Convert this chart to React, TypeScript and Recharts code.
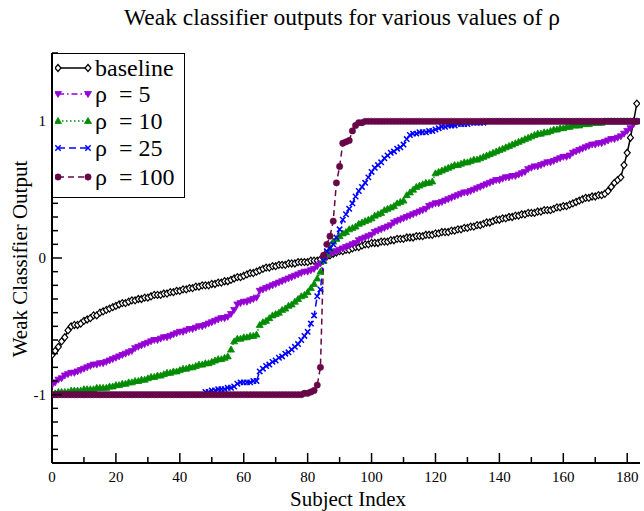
import React from 'react';
import { LineChart, Line, XAxis, YAxis } from 'recharts';

const FONT = "'Liberation Serif', 'DejaVu Serif', 'Times New Roman', serif";

// Subject index 0..183
const subjectIndex = Array.from({ length: 184 }, (_, i) => i);

const baseline = [
  -0.71, -0.68, -0.65, -0.61, -0.58, -0.53, -0.50, -0.49, -0.49, -0.48,
  -0.46, -0.45, -0.44, -0.42, -0.42, -0.40, -0.39, -0.38, -0.37, -0.36,
  -0.35, -0.34, -0.33, -0.33, -0.32, -0.31, -0.31, -0.30, -0.30, -0.29,
  -0.29, -0.28, -0.27, -0.27, -0.27, -0.26, -0.26, -0.25, -0.25, -0.24,
  -0.24, -0.23, -0.23, -0.22, -0.22, -0.21, -0.21, -0.20, -0.20, -0.20,
  -0.19, -0.19, -0.18, -0.18, -0.17, -0.17, -0.16, -0.15, -0.14, -0.14,
  -0.13, -0.12, -0.11, -0.11, -0.10, -0.09, -0.08, -0.07, -0.07, -0.06,
  -0.06, -0.05, -0.05, -0.05, -0.04, -0.04, -0.04, -0.03, -0.03, -0.03,
  -0.03, -0.02, -0.02, -0.02, -0.01, 0.00, 0.01, 0.02, 0.03, 0.04,
  0.05, 0.05, 0.06, 0.06, 0.07, 0.08, 0.08, 0.09, 0.10, 0.10,
  0.11, 0.11, 0.11, 0.12, 0.12, 0.12, 0.13, 0.13, 0.14, 0.14,
  0.14, 0.15, 0.15, 0.15, 0.16, 0.16, 0.16, 0.17, 0.17, 0.17,
  0.18, 0.18, 0.19, 0.19, 0.19, 0.20, 0.20, 0.21, 0.21, 0.22,
  0.22, 0.23, 0.23, 0.24, 0.24, 0.25, 0.26, 0.26, 0.27, 0.28,
  0.28, 0.29, 0.29, 0.30, 0.30, 0.31, 0.31, 0.32, 0.32, 0.33,
  0.33, 0.33, 0.34, 0.34, 0.35, 0.35, 0.35, 0.36, 0.37, 0.37,
  0.38, 0.38, 0.39, 0.40, 0.41, 0.42, 0.43, 0.44, 0.44, 0.45,
  0.45, 0.46, 0.46, 0.47, 0.49, 0.52, 0.55, 0.57, 0.59, 0.68,
  0.77, 0.88, 1.00, 1.13,
];

const rho5 = [
  -0.93, -0.91, -0.89, -0.88, -0.86, -0.85, -0.84, -0.84, -0.83, -0.82,
  -0.81, -0.80, -0.79, -0.78, -0.78, -0.77, -0.77, -0.76, -0.75, -0.74,
  -0.73, -0.72, -0.71, -0.70, -0.69, -0.68, -0.66, -0.65, -0.64, -0.63,
  -0.62, -0.61, -0.60, -0.60, -0.59, -0.58, -0.58, -0.57, -0.56, -0.55,
  -0.54, -0.54, -0.53, -0.52, -0.52, -0.51, -0.50, -0.50, -0.49, -0.48,
  -0.47, -0.46, -0.45, -0.44, -0.44, -0.43, -0.41, -0.38, -0.34, -0.33,
  -0.32, -0.32, -0.31, -0.30, -0.29, -0.24, -0.23, -0.22, -0.21, -0.20,
  -0.19, -0.18, -0.17, -0.16, -0.15, -0.14, -0.13, -0.12, -0.11, -0.10,
  -0.10, -0.09, -0.08, -0.06, -0.04, -0.01, 0.01, 0.03, 0.04, 0.05,
  0.06, 0.07, 0.08, 0.09, 0.10, 0.11, 0.13, 0.14, 0.15, 0.16,
  0.17, 0.19, 0.20, 0.21, 0.22, 0.23, 0.24, 0.26, 0.27, 0.28,
  0.29, 0.30, 0.31, 0.32, 0.33, 0.34, 0.35, 0.36, 0.38, 0.39,
  0.40, 0.40, 0.41, 0.42, 0.43, 0.44, 0.45, 0.46, 0.47, 0.48,
  0.48, 0.49, 0.50, 0.51, 0.52, 0.53, 0.54, 0.55, 0.56, 0.57,
  0.57, 0.58, 0.59, 0.59, 0.60, 0.60, 0.61, 0.62, 0.63, 0.65,
  0.66, 0.67, 0.67, 0.68, 0.69, 0.70, 0.70, 0.71, 0.72, 0.73,
  0.74, 0.74, 0.75, 0.77, 0.78, 0.79, 0.80, 0.81, 0.82, 0.83,
  0.83, 0.84, 0.84, 0.85, 0.86, 0.87, 0.87, 0.88, 0.89, 0.91,
  0.93, 0.95, 0.98, 1.00,
];

const rho10 = [
  -0.99, -0.99, -0.98, -0.98, -0.98, -0.98, -0.97, -0.97, -0.97, -0.97,
  -0.96, -0.96, -0.96, -0.96, -0.95, -0.95, -0.95, -0.95, -0.94, -0.94,
  -0.93, -0.93, -0.92, -0.92, -0.91, -0.91, -0.90, -0.90, -0.89, -0.89,
  -0.88, -0.87, -0.87, -0.86, -0.86, -0.85, -0.84, -0.84, -0.83, -0.83,
  -0.82, -0.81, -0.81, -0.80, -0.80, -0.79, -0.78, -0.78, -0.77, -0.77,
  -0.76, -0.75, -0.74, -0.74, -0.73, -0.72, -0.67, -0.61, -0.59, -0.59,
  -0.58, -0.58, -0.57, -0.57, -0.56, -0.49, -0.47, -0.46, -0.44, -0.42,
  -0.41, -0.40, -0.38, -0.37, -0.35, -0.34, -0.32, -0.30, -0.28, -0.27,
  -0.25, -0.22, -0.19, -0.15, -0.10, -0.02, 0.03, 0.07, 0.12, 0.14,
  0.16, 0.18, 0.19, 0.21, 0.22, 0.23, 0.25, 0.26, 0.27, 0.28,
  0.29, 0.31, 0.32, 0.33, 0.35, 0.36, 0.37, 0.38, 0.40, 0.41,
  0.42, 0.46, 0.48, 0.50, 0.52, 0.53, 0.54, 0.55, 0.55, 0.56,
  0.62, 0.63, 0.64, 0.65, 0.66, 0.67, 0.68, 0.68, 0.69, 0.70,
  0.70, 0.71, 0.72, 0.72, 0.73, 0.74, 0.75, 0.76, 0.77, 0.78,
  0.79, 0.80, 0.81, 0.82, 0.83, 0.84, 0.85, 0.86, 0.87, 0.88,
  0.89, 0.90, 0.91, 0.91, 0.92, 0.92, 0.93, 0.94, 0.94, 0.95,
  0.95, 0.96, 0.96, 0.97, 0.97, 0.97, 0.98, 0.98, 0.98, 0.99,
  0.99, 0.99, 0.99, 1.00, 1.00, 1.00, 1.00, 1.00, 1.00, 1.00,
  1.00, 1.00, 1.00, 1.00,
];

const rho25 = [
  -1.00, -1.00, -1.00, -1.00, -1.00, -1.00, -1.00, -1.00, -1.00, -1.00,
  -1.00, -1.00, -1.00, -1.00, -1.00, -1.00, -1.00, -1.00, -1.00, -1.00,
  -1.00, -1.00, -1.00, -1.00, -1.00, -1.00, -1.00, -1.00, -1.00, -1.00,
  -1.00, -1.00, -1.00, -1.00, -1.00, -1.00, -1.00, -1.00, -1.00, -1.00,
  -1.00, -1.00, -1.00, -1.00, -1.00, -1.00, -1.00, -1.00, -0.98, -0.98,
  -0.97, -0.97, -0.96, -0.96, -0.96, -0.95, -0.95, -0.94, -0.92, -0.91,
  -0.91, -0.91, -0.91, -0.90, -0.90, -0.83, -0.81, -0.79, -0.78, -0.76,
  -0.75, -0.73, -0.72, -0.70, -0.69, -0.67, -0.65, -0.63, -0.60, -0.57,
  -0.54, -0.48, -0.42, -0.28, -0.23, -0.02, 0.05, 0.07, 0.10, 0.15,
  0.21, 0.28, 0.32, 0.36, 0.40, 0.45, 0.49, 0.52, 0.55, 0.59,
  0.63, 0.66, 0.68, 0.70, 0.73, 0.75, 0.77, 0.78, 0.80, 0.81,
  0.83, 0.87, 0.90, 0.91, 0.91, 0.92, 0.92, 0.92, 0.93, 0.93,
  0.94, 0.95, 0.96, 0.96, 0.97, 0.97, 0.97, 0.98, 0.98, 0.98,
  0.98, 0.99, 0.99, 0.99, 0.99, 0.99, 1.00, 1.00, 1.00, 1.00,
  1.00, 1.00, 1.00, 1.00, 1.00, 1.00, 1.00, 1.00, 1.00, 1.00,
  1.00, 1.00, 1.00, 1.00, 1.00, 1.00, 1.00, 1.00, 1.00, 1.00,
  1.00, 1.00, 1.00, 1.00, 1.00, 1.00, 1.00, 1.00, 1.00, 1.00,
  1.00, 1.00, 1.00, 1.00, 1.00, 1.00, 1.00, 1.00, 1.00, 1.00,
  1.00, 1.00, 1.00, 1.00,
];

const rho100 = [
  -1.00, -1.00, -1.00, -1.00, -1.00, -1.00, -1.00, -1.00, -1.00, -1.00,
  -1.00, -1.00, -1.00, -1.00, -1.00, -1.00, -1.00, -1.00, -1.00, -1.00,
  -1.00, -1.00, -1.00, -1.00, -1.00, -1.00, -1.00, -1.00, -1.00, -1.00,
  -1.00, -1.00, -1.00, -1.00, -1.00, -1.00, -1.00, -1.00, -1.00, -1.00,
  -1.00, -1.00, -1.00, -1.00, -1.00, -1.00, -1.00, -1.00, -1.00, -1.00,
  -1.00, -1.00, -1.00, -1.00, -1.00, -1.00, -1.00, -1.00, -1.00, -1.00,
  -1.00, -1.00, -1.00, -1.00, -1.00, -1.00, -1.00, -1.00, -1.00, -1.00,
  -1.00, -1.00, -1.00, -1.00, -1.00, -1.00, -1.00, -1.00, -1.00, -0.99,
  -0.99, -0.98, -0.97, -0.93, -0.80, 0.02, 0.10, 0.16, 0.27, 0.55,
  0.67, 0.84, 0.85, 0.86, 0.93, 0.97, 0.99, 0.99, 1.00, 1.00,
  1.00, 1.00, 1.00, 1.00, 1.00, 1.00, 1.00, 1.00, 1.00, 1.00,
  1.00, 1.00, 1.00, 1.00, 1.00, 1.00, 1.00, 1.00, 1.00, 1.00,
  1.00, 1.00, 1.00, 1.00, 1.00, 1.00, 1.00, 1.00, 1.00, 1.00,
  1.00, 1.00, 1.00, 1.00, 1.00, 1.00, 1.00, 1.00, 1.00, 1.00,
  1.00, 1.00, 1.00, 1.00, 1.00, 1.00, 1.00, 1.00, 1.00, 1.00,
  1.00, 1.00, 1.00, 1.00, 1.00, 1.00, 1.00, 1.00, 1.00, 1.00,
  1.00, 1.00, 1.00, 1.00, 1.00, 1.00, 1.00, 1.00, 1.00, 1.00,
  1.00, 1.00, 1.00, 1.00, 1.00, 1.00, 1.00, 1.00, 1.00, 1.00,
  1.00, 1.00, 1.00, 1.00,
];

const xTicks = [0, 10, 20, 30, 40, 50, 60, 70, 80, 90, 100, 110, 120, 130, 140, 150, 160, 170, 180];
const xLabelTicks = [0, 20, 40, 60, 80, 100, 120, 140, 160, 180];
const yTicks = [
  -1.5, -1.4, -1.3, -1.2, -1.1, -1, -0.9, -0.8, -0.7, -0.6, -0.5, -0.4, -0.3, -0.2, -0.1,
  0, 0.1, 0.2, 0.3, 0.4, 0.5, 0.6, 0.7, 0.8, 0.9, 1, 1.1, 1.2, 1.3, 1.4, 1.5,
];
const yLabelTicks = [-1, 0, 1];

const series = [
  { key: 'baseline', name: 'baseline', color: '#000000', dash: undefined as string | undefined, marker: 'diamond', values: baseline },
  { key: 'rho5', name: 'ρ  = 5', color: '#9400d3', dash: '6 3 1.5 3', marker: 'triDown', values: rho5 },
  { key: 'rho10', name: 'ρ  = 10', color: '#008b00', dash: '1.5 2.5', marker: 'triUp', values: rho10 },
  { key: 'rho25', name: 'ρ  = 25', color: '#0000ff', dash: '7 4', marker: 'cross', values: rho25 },
  { key: 'rho100', name: 'ρ  = 100', color: '#670748', dash: '6 4', marker: 'circle', values: rho100 },
];

const data = subjectIndex.map((i, k) => {
  const row: Record<string, number> = { i };
  series.forEach((s) => {
    row[s.key] = s.values[k];
  });
  return row;
});

function markerShape(kind: string, cx: number, cy: number, color: string, key?: string) {
  switch (kind) {
    case 'diamond':
      return (
        <path key={key} d={`M${cx},${cy - 3.5}L${cx + 3},${cy}L${cx},${cy + 3.5}L${cx - 3},${cy}Z`} fill="#ffffff" stroke={color} strokeWidth={1.2} />
      );
    case 'triDown':
      return <path key={key} d={`M${cx - 3.5},${cy - 2.5}L${cx + 3.5},${cy - 2.5}L${cx},${cy + 3.5}Z`} fill={color} stroke={color} strokeWidth={0.8} />;
    case 'triUp':
      return <path key={key} d={`M${cx - 3.5},${cy + 2.5}L${cx + 3.5},${cy + 2.5}L${cx},${cy - 3.5}Z`} fill={color} stroke={color} strokeWidth={0.8} />;
    case 'cross':
      return (
        <path key={key} d={`M${cx - 2.7},${cy - 2.7}L${cx + 2.7},${cy + 2.7}M${cx - 2.7},${cy + 2.7}L${cx + 2.7},${cy - 2.7}`} stroke={color} strokeWidth={1.5} fill="none" />
      );
    default:
      return <circle key={key} cx={cx} cy={cy} r={3.2} fill={color} stroke={color} strokeWidth={0.5} />;
  }
}

const BottomTick = (props: any) => {
  const { x, y, payload } = props;
  const v = payload.value;
  const major = xLabelTicks.includes(v);
  return (
    <g>
      <line x1={x} x2={x} y1={y} y2={y - (major ? 10 : 6)} stroke="#000" strokeWidth={1.5} />
      {major && (
        <text x={x} y={y + 19} textAnchor="middle" fontFamily={FONT} fontSize={15} fill="#000">
          {v}
        </text>
      )}
    </g>
  );
};

const TopTick = (props: any) => {
  const { x, y, payload } = props;
  const major = xLabelTicks.includes(payload.value);
  return <line x1={x} x2={x} y1={y} y2={y + (major ? 10 : 6)} stroke="#000" strokeWidth={1.5} />;
};

const LeftTick = (props: any) => {
  const { x, y, payload } = props;
  const v = payload.value;
  const major = yLabelTicks.includes(v);
  return (
    <g>
      <line x1={x} x2={x + (major ? 10 : 6)} y1={y} y2={y} stroke="#000" strokeWidth={1.5} />
      {major && (
        <text x={x - 6} y={y + 5} textAnchor="end" fontFamily={FONT} fontSize={15} fill="#000">
          {v}
        </text>
      )}
    </g>
  );
};

const RightTick = (props: any) => {
  const { x, y, payload } = props;
  const major = yLabelTicks.includes(payload.value);
  return <line x1={x} x2={x - (major ? 10 : 6)} y1={y} y2={y} stroke="#000" strokeWidth={1.5} />;
};

const legendRows = [68, 94, 121, 148, 177];

export default function App() {
  return (
    <div style={{ position: 'absolute', left: 0, top: 0, width: 644, height: 511, background: '#fff' }}>
      <LineChart width={644} height={511} data={data} margin={{ top: 53, right: 4, bottom: 0, left: 0 }}>
        <XAxis
          dataKey="i"
          type="number"
          domain={[0, 184]}
          ticks={xTicks}
          interval={0}
          height={48}
          tickSize={0}
          tickMargin={0}
          tickLine={false}
          tick={<BottomTick />}
          axisLine={{ stroke: '#000', strokeWidth: 2 }}
          allowDataOverflow
        />
        <XAxis
          xAxisId="top"
          orientation="top"
          dataKey="i"
          type="number"
          domain={[0, 184]}
          ticks={xTicks}
          interval={0}
          height={0}
          tickSize={0}
          tickMargin={0}
          tickLine={false}
          tick={<TopTick />}
          axisLine={{ stroke: '#000', strokeWidth: 2 }}
          allowDataOverflow
        />
        <YAxis
          type="number"
          domain={[-1.5, 1.5]}
          ticks={yTicks}
          interval={0}
          width={52}
          tickSize={0}
          tickMargin={0}
          tickLine={false}
          tick={<LeftTick />}
          axisLine={{ stroke: '#000', strokeWidth: 2 }}
          allowDataOverflow
        />
        <YAxis
          yAxisId="right"
          orientation="right"
          type="number"
          domain={[-1.5, 1.5]}
          ticks={yTicks}
          interval={0}
          width={0}
          tickSize={0}
          tickMargin={0}
          tickLine={false}
          tick={<RightTick />}
          axisLine={{ stroke: '#000', strokeWidth: 2 }}
          allowDataOverflow
        />
        {series.map((s) => (
          <Line
            key={s.key}
            dataKey={s.key}
            type="linear"
            stroke={s.color}
            strokeWidth={1.5}
            strokeDasharray={s.dash}
            isAnimationActive={false}
            dot={(p: any) => markerShape(s.marker, p.cx, p.cy, s.color, `${s.key}-${p.index}`)}
            activeDot={false}
          />
        ))}
      </LineChart>

      <div
        style={{
          position: 'absolute',
          left: 0,
          top: 3,
          width: 684,
          textAlign: 'center',
          fontFamily: FONT,
          fontSize: 23.5,
          lineHeight: '28px',
          color: '#000',
          whiteSpace: 'nowrap',
        }}
      >
        Weak classifier outputs for various values of ρ
      </div>

      <div
        style={{
          position: 'absolute',
          left: 52,
          width: 592,
          top: 487,
          textAlign: 'center',
          fontFamily: FONT,
          fontSize: 21,
          lineHeight: '24px',
          color: '#000',
        }}
      >
        Subject Index
      </div>

      <div
        style={{
          position: 'absolute',
          left: 20,
          top: 259,
          transform: 'translate(-50%, -50%) rotate(-90deg)',
          fontFamily: FONT,
          fontSize: 21,
          lineHeight: '24px',
          color: '#000',
          whiteSpace: 'nowrap',
        }}
      >
        Weak Classifier Output
      </div>

      <div
        style={{
          position: 'absolute',
          left: 52,
          top: 53,
          width: 133,
          height: 145,
          boxSizing: 'border-box',
          border: '1.5px solid #000',
          background: '#fff',
        }}
      />
      {series.map((s, k) => (
        <div
          key={s.key}
          style={{ position: 'absolute', left: 55, top: legendRows[k] - 13, height: 26, display: 'flex', alignItems: 'center' }}
        >
          <svg width={38} height={26} style={{ display: 'block' }}>
            <line x1={3} x2={33} y1={13} y2={13} stroke={s.color} strokeWidth={1.5} strokeDasharray={s.dash} />
            {markerShape(s.marker, 3, 13, s.color, 'a')}
            {markerShape(s.marker, 33, 13, s.color, 'b')}
          </svg>
          <span style={{ fontFamily: FONT, fontSize: 24, lineHeight: '26px', color: '#000', whiteSpace: 'pre', marginLeft: 2 }}>
            {s.name}
          </span>
        </div>
      ))}
    </div>
  );
}
